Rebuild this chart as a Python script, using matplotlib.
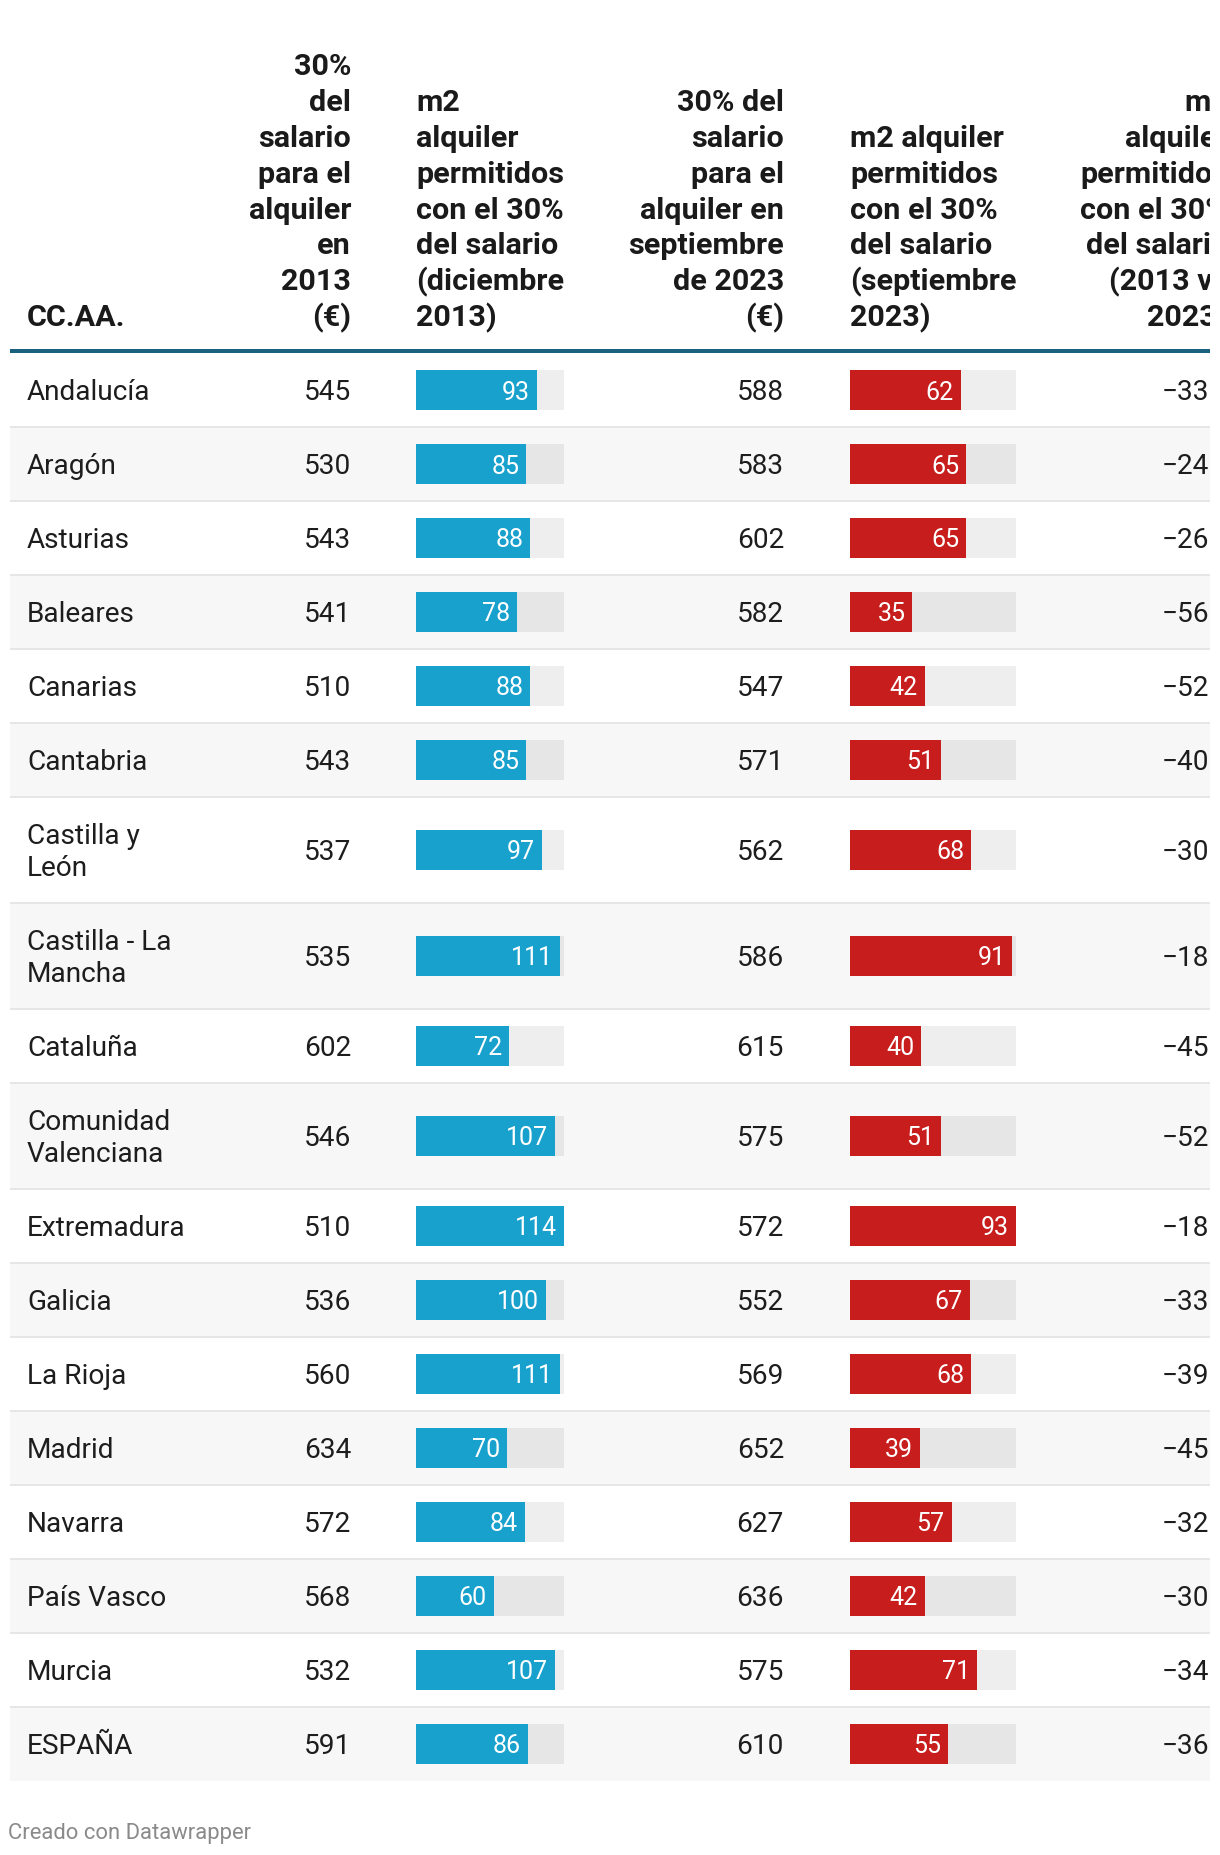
import matplotlib
matplotlib.use("Agg")
import matplotlib.pyplot as plt
from matplotlib.patches import Rectangle

# ---------------- data ----------------
names = ["Andalucía", "Aragón", "Asturias", "Baleares", "Canarias", "Cantabria",
         "Castilla y\nLeón", "Castilla - La\nMancha", "Cataluña", "Comunidad\nValenciana",
         "Extremadura", "Galicia", "La Rioja", "Madrid", "Navarra", "País Vasco",
         "Murcia", "ESPAÑA"]
sal_2013 = [545, 530, 543, 541, 510, 543, 537, 535, 602, 546, 510, 536, 560, 634, 572, 568, 532, 591]
m2_2013 = [93, 85, 88, 78, 88, 85, 97, 111, 72, 107, 114, 100, 111, 70, 84, 60, 107, 86]
sal_2023 = [588, 583, 602, 582, 547, 571, 562, 586, 615, 575, 572, 552, 569, 652, 627, 636, 575, 610]
m2_2023 = [62, 65, 65, 35, 42, 51, 68, 91, 40, 51, 93, 67, 68, 39, 57, 42, 71, 55]
cambio = [-33, -24, -26, -56, -52, -40, -30, -18, -45, -52, -18, -33, -39, -45, -32, -30, -34, -36]

headers = [
    "CC.AA.",
    "30%\ndel\nsalario\npara el\nalquiler\nen\n2013\n(€)",
    "m2\nalquiler\npermitidos\ncon el 30%\ndel salario\n(diciembre\n2013)",
    "30% del\nsalario\npara el\nalquiler en\nseptiembre\nde 2023\n(€)",
    "m2 alquiler\npermitidos\ncon el 30%\ndel salario\n(septiembre\n2023)",
    "m2\nalquiler\npermitidos\ncon el 30%\ndel salario\n(2013 vs\n2023)",
]
footer = "Creado con Datawrapper"

# ---------------- layout ----------------
W, H = 1220, 1856
DPI = 100
PT = 72 / DPI
FONT = "Roboto"
plt.rcParams["font.family"] = [FONT, "DejaVu Sans"]

BLUE = "#19a1cd"
RED = "#c71e1d"
TXT = "#1d1d1d"
CLIP_X = 1210  # the source table is cut off at its right edge

fig = plt.figure(figsize=(W / DPI, H / DPI), dpi=DPI)
fig.patch.set_facecolor("white")
ax = fig.add_axes([0, 0, CLIP_X / W, 1])
ax.set_xlim(0, CLIP_X)
ax.set_ylim(H, 0)
ax.axis("off")

F_HEAD = 30.5 * PT
F_BODY = 28 * PT
F_BAR = 25 * PT
F_FOOT = 22 * PT

# column anchors (x, ha)
cols = [(27, "left"), (351, "right"), (416, "left"), (784, "right"), (850, "left"), (1209, "right")]
HEAD_LAST_X = 1228

# header
HEAD_BASE = 326
HEAD_LS = 35.8
for j, ((x, ha), h) in enumerate(zip(cols, headers)):
    if j == len(cols) - 1:
        x = HEAD_LAST_X
    lines = h.split("\n")
    for k, line in enumerate(reversed(lines)):
        ax.text(x, HEAD_BASE - k * HEAD_LS, line, ha=ha, va="baseline",
                fontsize=F_HEAD, fontweight="bold", color="#1a1a1a", clip_on=True)

ax.add_patch(Rectangle((10, 350), CLIP_X - 10, 4, color="#1a617e", lw=0))

# rows
y = 354
centers = []
for i, nm in enumerate(names):
    nl = nm.count("\n") + 1
    rh = 74 if nl == 1 else 106
    if i % 2 == 1:
        ax.add_patch(Rectangle((10, y), CLIP_X - 10, rh, color="#f7f7f7", lw=0, zorder=0))
    if i > 0:
        ax.add_patch(Rectangle((10, y - 1), CLIP_X - 10, 2, color="#e6e6e6", lw=0, zorder=0.5))
    centers.append(y + rh / 2)
    y += rh

LS_BODY = 32
for i in range(len(names)):
    c = centers[i]
    base = c + 8.6
    lines = names[i].split("\n")
    n = len(lines)
    for k, line in enumerate(lines):
        ax.text(cols[0][0], base + (k - (n - 1) / 2) * LS_BODY, line, ha="left", va="baseline",
                fontsize=F_BODY, color=TXT, clip_on=True)
    ax.text(cols[1][0], base, f"{sal_2013[i]}", ha="right", va="baseline",
            fontsize=F_BODY, color=TXT, clip_on=True)
    ax.text(cols[3][0], base, f"{sal_2023[i]}", ha="right", va="baseline",
            fontsize=F_BODY, color=TXT, clip_on=True)
    ax.text(cols[5][0], base, f"\u2212{abs(cambio[i])}" if cambio[i] < 0 else f"{cambio[i]}",
            ha="right", va="baseline", fontsize=F_BODY, color=TXT, clip_on=True)


def bar_column(x0, width, values, color):
    bax = fig.add_axes([x0 / W, 0, width / W, 1])
    vmax = max(values)
    bax.set_xlim(0, vmax)
    bax.set_ylim(H, 0)
    bax.axis("off")
    bax.patch.set_alpha(0)
    bax.barh(centers, [vmax] * len(values), height=40, color=(0, 0, 0, 0.068), lw=0)
    bax.barh(centers, values, height=40, color=color, lw=0)
    for c, v in zip(centers, values):
        bax.annotate(f"{v}", (v, c + 8.5), xytext=(-7 * PT, 0), textcoords="offset points",
                     ha="right", va="baseline", fontsize=F_BAR, color="white")


bar_column(416, 148, m2_2013, BLUE)
bar_column(850, 166, m2_2023, RED)

ax.text(8, 1839, footer, ha="left", va="baseline", fontsize=F_FOOT, color="#8a8a8a")

fig.savefig("out.png", dpi=DPI, facecolor="white")
